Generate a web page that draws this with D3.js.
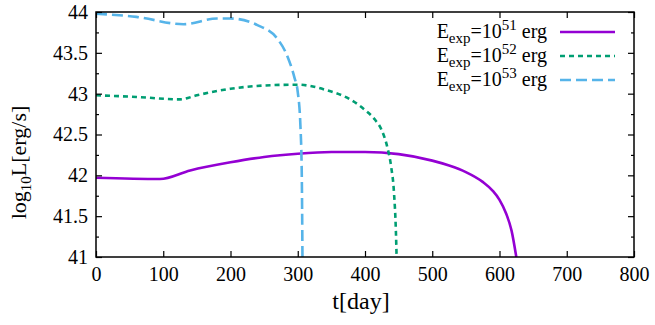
<!DOCTYPE html>
<html>
<head>
<meta charset="utf-8">
<script src="https://cdn.jsdelivr.net/npm/d3@7"></script>
<style>
  body { margin: 0; background: #fff; }
  text { font-family: "Liberation Serif", "DejaVu Serif", serif; fill: #000; }
</style>
</head>
<body>
<script>
// luminosity curves
const t51 = [0, 95, 140, 200, 250, 300, 350, 400, 450, 500, 525, 550, 575, 590, 600, 610, 618, 625];
const L51 = [41.97, 41.955, 42.06, 42.16, 42.225, 42.265, 42.285, 42.285, 42.26, 42.18, 42.12, 42.04, 41.92, 41.81, 41.70, 41.53, 41.32, 41.0];

const t52 = [0, 60, 125, 150, 200, 250, 300, 340, 380, 400, 415, 425, 433, 439, 443, 446, 447];
const L52 = [42.98, 42.96, 42.93, 42.98, 43.06, 43.10, 43.11, 43.05, 42.92, 42.80, 42.68, 42.55, 42.35, 42.1, 41.8, 41.3, 41.0];

const t53 = [0, 60, 130, 180, 200, 240, 270, 285, 295, 300, 304, 306, 307];
const L53 = [43.98, 43.94, 43.85, 43.92, 43.92, 43.84, 43.67, 43.45, 43.2, 43.02, 42.6, 42.0, 41.0];

const xTicks = [0, 100, 200, 300, 400, 500, 600, 700, 800];
const yTicks = [41, 41.5, 42, 42.5, 43, 43.5, 44];
const yMinor = [41.25, 41.75, 42.25, 42.75, 43.25, 43.75];
const expos = ["51", "52", "53"];

var margin = {top: 12, right: 21, bottom: 68, left: 96},
    W = 655, H = 325,
    width = W - margin.left - margin.right,
    height = H - margin.top - margin.bottom;

var svg = d3.select("body").append("svg")
    .attr("width", W)
    .attr("height", H);

var g = svg.append("g")
    .attr("transform", "translate(" + margin.left + "," + margin.top + ")");

var x = d3.scaleLinear().domain([0, 800]).range([0, width]);
var y = d3.scaleLinear().domain([41, 44]).range([height, 0]);

// clip so curves stay inside the frame
g.append("clipPath").attr("id", "clip")
  .append("rect").attr("width", width).attr("height", height);

var series = [
  {t: t51, L: L51, color: "#9400d3", dash: null},
  {t: t52, L: L52, color: "#009e73", dash: "5,4"},
  {t: t53, L: L53, color: "#56b4e9", dash: "11,5"}
];

var line = d3.line()
    .x(d => x(d[0]))
    .y(d => y(d[1]))
    .curve(d3.curveMonotoneX);

g.append("g").attr("clip-path", "url(#clip)")
  .selectAll("path").data(series).enter().append("path")
    .attr("d", s => line(s.t.map((v, i) => [v, s.L[i]])))
    .attr("fill", "none")
    .attr("stroke", s => s.color)
    .attr("stroke-width", 2.6)
    .attr("stroke-dasharray", s => s.dash);

// axes, ticks point inward like gnuplot
var xb = g.append("g").attr("transform", "translate(0," + height + ")")
  .call(d3.axisBottom(x).tickValues(xTicks).tickSize(-6).tickPadding(10).tickFormat(d3.format("d")));
g.append("g")
  .call(d3.axisTop(x).tickValues(xTicks).tickSize(-6).tickFormat(""));
g.append("g")
  .call(d3.axisLeft(y).tickValues(yTicks).tickSize(-6).tickPadding(8).tickFormat(d => String(d)));
g.append("g").attr("transform", "translate(" + width + ",0)")
  .call(d3.axisRight(y).tickValues(yTicks).tickSize(-6).tickFormat(""));
g.append("g").call(d3.axisLeft(y).tickValues(yMinor).tickSize(-3).tickFormat(""));
g.append("g").attr("transform", "translate(" + width + ",0)")
  .call(d3.axisRight(y).tickValues(yMinor).tickSize(-3).tickFormat(""));

g.selectAll(".domain").remove();
g.selectAll(".tick").attr("font-family", "Liberation Serif");
g.selectAll(".tick line").attr("stroke", "#000").attr("stroke-width", 1.2);
g.selectAll(".tick text").attr("font-size", 20).attr("fill", "#000")
  .attr("font-family", "Liberation Serif");
xb.selectAll(".tick text").attr("dy", "0.71em");

g.append("rect")
  .attr("width", width).attr("height", height)
  .attr("fill", "none").attr("stroke", "#000").attr("stroke-width", 1.5);

// axis titles
svg.append("text")
  .attr("x", margin.left + width / 2 - 4).attr("y", 309)
  .attr("text-anchor", "middle").style("font-size", "24px")
  .text("t[day]");

var yt = svg.append("text")
  .attr("transform", "translate(26," + (margin.top + height / 2 + 28) + ") rotate(-90)")
  .attr("text-anchor", "middle").style("font-size", "22px");
yt.append("tspan").text("log");
yt.append("tspan").attr("dy", 5).style("font-size", "15px").text("10");
yt.append("tspan").attr("dy", -5).text("L[erg/s]");

// legend
var leg = g.append("g");
series.forEach(function(s, i) {
  var ly = 20 + i * 24;
  var tx = leg.append("text")
    .attr("x", 451).attr("y", ly + 6)
    .attr("text-anchor", "end").style("font-size", "20px");
  tx.append("tspan").text("E");
  tx.append("tspan").attr("dy", 5).style("font-size", "15px").text("exp");
  tx.append("tspan").attr("dy", -5).text("=10");
  tx.append("tspan").attr("dy", -8).style("font-size", "15px").text(expos[i]);
  tx.append("tspan").attr("dy", 8).text(" erg");
  leg.append("line")
    .attr("x1", 464).attr("x2", 519)
    .attr("y1", ly).attr("y2", ly)
    .attr("stroke", s.color).attr("stroke-width", 2.6)
    .attr("stroke-dasharray", s.dash);
});
</script>
</body>
</html>
